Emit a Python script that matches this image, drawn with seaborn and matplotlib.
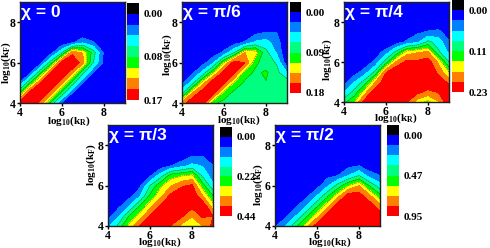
import matplotlib
matplotlib.use('Agg')
import matplotlib.pyplot as plt
from matplotlib.colors import ListedColormap
import seaborn as sns
import numpy as np

sns.set_theme(style="ticks")
plt.rcParams['font.family'] = ['Liberation Serif', 'DejaVu Serif']
plt.rcParams['font.weight'] = 'bold'
plt.rcParams['mathtext.fontset'] = 'custom'
plt.rcParams['mathtext.bf'] = 'Liberation Serif:bold'
plt.rcParams['mathtext.rm'] = 'Liberation Serif:bold'

W, H = 490, 248

k_r = [4, 4.5, 5, 5.5, 6, 6.5, 7, 7.5, 8, 8.5, 9]
k_f = [4, 4.5, 5, 5.5, 6, 6.5, 7, 7.5, 8, 8.5, 9]

# colour-scale position of the surface, rows go from log kF = 4 upwards
chi_0 = [
    [7.2, 8.0, 6.5, 3.7, 1.0, 0.3, 0, 0, 0, 0, 0],
    [4.0, 7.5, 8.4, 6.4, 3.7, 1.0, 0.3, 0, 0, 0, 0],
    [1.0, 4.0, 7.0, 8.3, 6.2, 3.6, 1.0, 0.3, 0, 0, 0],
    [0, 0.8, 3.9, 7.2, 8.3, 6.2, 3.3, 1.0, 0.3, 0, 0],
    [0, 0, 0.7, 3.6, 7.4, 8.3, 6.3, 3.0, 0.7, 0, 0],
    [0, 0, 0, 0.6, 2.8, 6.6, 5.9, 3.5, 0.8, 0, 0],
    [0, 0, 0, 0, 0.2, 0.8, 1.8, 1.1, 0.2, 0, 0],
    [0] * 11, [0] * 11, [0] * 11, [0] * 11,
]
chi_pi6 = [
    [6.4, 8.0, 7.6, 4.2, 3.7, 3.6, 3.6, 3.6, 3.6, 3.6, 3.6],
    [2.6, 6.0, 7.8, 7.3, 4.6, 3.7, 3.7, 3.7, 3.7, 3.7, 3.7],
    [0.7, 2.6, 5.6, 8.0, 7.2, 4.8, 3.8, 3.8, 3.95, 3.8, 3.7],
    [0, 0.8, 2.4, 5.0, 7.5, 7.2, 4.5, 3.8, 4.15, 3.4, 2.0],
    [0, 0, 0.6, 1.9, 5.0, 7.6, 7.0, 4.2, 3.5, 2.9, 0.3],
    [0, 0, 0, 0.4, 1.2, 3.0, 6.0, 5.5, 3.3, 1.9, 0],
    [0, 0, 0, 0, 0.2, 0.6, 1.1, 2.2, 2.4, 1.5, 0],
    [0, 0, 0, 0, 0, 0, 0, 0.7, 1.0, 1.0, 0],
    [0] * 11, [0] * 11, [0] * 11,
]
chi_pi4 = [
    [3.7, 5.0, 7.6, 8.0, 8.0, 8.0, 7.0, 5.5, 4.7, 5.9, 7.8],
    [1.9, 3.4, 5.6, 7.8, 8.0, 8.0, 8.0, 7.3, 6.7, 7.1, 7.8],
    [0.5, 2.0, 3.5, 6.0, 7.9, 8.0, 8.0, 8.0, 7.9, 7.8, 6.7],
    [0, 0.5, 1.5, 3.3, 6.9, 8.0, 8.0, 8.0, 8.0, 6.7, 5.0],
    [0, 0, 0.3, 1.3, 3.6, 6.2, 7.3, 7.2, 7.6, 5.8, 3.0],
    [0, 0, 0, 0.4, 1.4, 3.4, 5.5, 5.9, 6.1, 3.2, 1.8],
    [0, 0, 0, 0, 0, 0.5, 1.2, 1.8, 3.3, 2.5, 1.1],
    [0, 0, 0, 0, 0, 0, 0.2, 0.8, 1.1, 1.3, 0.3],
    [0] * 11, [0] * 11, [0] * 11,
]
chi_pi3 = [
    [1.7, 3.3, 5.3, 7.0, 7.7, 7.8, 6.9, 5.7, 5.2, 6.0, 7.3],
    [0.5, 1.9, 4.0, 5.4, 7.0, 7.8, 8.0, 7.2, 6.1, 7.2, 7.0],
    [0, 0.7, 1.9, 4.0, 5.6, 7.1, 8.0, 8.0, 7.3, 7.9, 5.4],
    [0, 0, 0.6, 1.8, 4.2, 5.7, 7.3, 8.0, 7.9, 6.0, 4.0],
    [0, 0, 0.1, 0.7, 3.0, 4.8, 5.9, 6.8, 7.2, 4.5, 2.2],
    [0, 0, 0, 0.1, 0.8, 2.5, 4.5, 4.9, 5.2, 2.8, 1.4],
    [0, 0, 0, 0, 0, 0.3, 0.9, 1.5, 2.2, 1.9, 1.0],
    [0, 0, 0, 0, 0, 0, 0, 0.3, 0.9, 0.9, 0.2],
    [0] * 11, [0] * 11, [0] * 11,
]
chi_pi2 = [
    [0.8, 2.0, 3.8, 5.6, 7.6, 8.0, 8.0, 8.0, 8.0, 8.0, 8.0],
    [0, 0.8, 2.0, 3.8, 5.6, 7.6, 8.0, 8.0, 8.0, 8.0, 7.5],
    [0, 0, 0.8, 2.0, 3.8, 5.6, 7.6, 8.0, 8.0, 7.6, 6.4],
    [0, 0, 0, 0.7, 2.0, 3.8, 5.6, 7.6, 7.5, 6.2, 4.3],
    [0, 0, 0, 0, 0.6, 1.8, 3.4, 5.0, 6.0, 3.9, 2.4],
    [0, 0, 0, 0, 0, 0.7, 1.0, 2.0, 3.0, 1.5, 1.0],
    [0, 0, 0, 0, 0, 0, 0.3, 0.7, 0.9, 0.3, 0],
    [0] * 11, [0] * 11, [0] * 11, [0] * 11,
]

titles = ['χ = 0', 'χ = π/6', 'χ = π/4', 'χ = π/3', 'χ = π/2']
surfaces = [chi_0, chi_pi6, chi_pi4, chi_pi3, chi_pi2]
bar_labels = [['0.00', '0.08', '0.17'], ['0.00', '0.09', '0.18'], ['0.00', '0.11', '0.23'],
              ['0.00', '0.22', '0.44'], ['0.00', '0.47', '0.95']]

# pixel boxes: left, top, right, bottom
plot_boxes = [(19.5, 2, 125, 103), (182, 2, 287, 103), (344, 2, 449, 102), (108, 125, 213, 226), (275, 125, 380, 226)]
bar_boxes = [(127, 3, 139, 100), (289.5, 2, 301, 93), (452, 0, 464, 92), (220, 127, 232, 216), (387, 125, 399, 216)]
# pixel centres of the axis labels
xlabel_pos = [(69, 121), (239, 120.5), (396, 118), (160, 242), (330, 242)]
ylabel_pos = [(6, 63), (167, 55), (327, 60), (91, 165), (258, 185)]

band_colors = ['#0000ff', '#0080ff', '#00ffff', '#00ff80', '#00ff00', '#ffff00', '#ff8000', '#ff0000']
bar_colors = ['#000000'] + band_colors
levels = [-1, 1, 2, 3, 4, 5, 6, 7, 9]


def add_box(fig, box):
    left, top, right, bottom = box
    return fig.add_axes([left / W, 1 - bottom / H, (right - left) / W, (bottom - top) / H])


fig = plt.figure(figsize=(W / 100, H / 100), dpi=100, facecolor='white')

for i in range(5):
    ax = add_box(fig, plot_boxes[i])
    z = np.array(surfaces[i])
    ax.contourf(k_r, k_f, z, levels=levels, colors=band_colors)
    ax.contour(k_r, k_f, z, levels=[3, 4, 5], colors='#303030', linewidths=0.3, linestyles='--')
    ax.set_xlim(4, 9)
    ax.set_ylim(4, 9)
    ax.set_xticks([4, 6, 8])
    ax.set_yticks([4, 6, 8])
    ax.tick_params(length=2, width=1, pad=1, labelsize=8.5, color='black', labelcolor='black')
    for s in ax.spines.values():
        s.set_linewidth(1)
        s.set_color('#202020')
    ax.set_xlabel(r'log$_{\mathbf{10}}$(k$_{\mathbf{R}}$)', fontsize=8, fontweight='bold', color='black', va='center')
    ax.set_ylabel(r'log$_{\mathbf{10}}$(k$_{\mathbf{F}}$)', fontsize=8, fontweight='bold', color='black', va='center')
    left, top, right, bottom = plot_boxes[i]
    ax.xaxis.set_label_coords((xlabel_pos[i][0] - left) / (right - left), (bottom - xlabel_pos[i][1]) / (bottom - top))
    ax.yaxis.set_label_coords((ylabel_pos[i][0] - left) / (right - left), (bottom - ylabel_pos[i][1]) / (bottom - top))
    ax.text(0.01, 0.97, titles[i], transform=ax.transAxes, color='white', fontsize=12.5, fontweight='bold',
            family='Liberation Sans', va='top', ha='left')

    cax = add_box(fig, bar_boxes[i])
    bands = np.arange(len(bar_colors)).reshape(-1, 1)
    sns.heatmap(bands, ax=cax, cmap=ListedColormap(bar_colors), cbar=False, xticklabels=False)
    cax.yaxis.tick_right()
    cax.set_yticks([1, 5, 9])
    cax.set_yticklabels(bar_labels[i], rotation=0, fontsize=8, color='black')
    cax.tick_params(length=0, pad=3)

fig.savefig('out.png', dpi=100)
